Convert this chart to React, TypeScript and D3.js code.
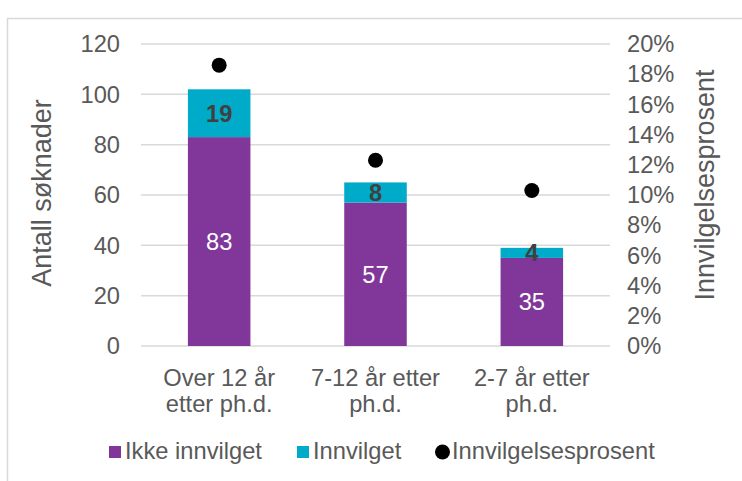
import React from "react";
import * as d3 from "d3";

const categories = ["Over 12 år etter ph.d.", "7-12 år etter ph.d.", "2-7 år etter ph.d."];
const categoryLines = [["Over 12 år", "etter ph.d."], ["7-12 år etter", "ph.d."], ["2-7 år etter", "ph.d."]];
const ikkeInnvilget = [83, 57, 35];
const innvilget = [19, 8, 4];
const prosent = [0.186, 0.123, 0.103];
const leftTicks = [0, 20, 40, 60, 80, 100, 120];
const rightTicks = [0, 0.02, 0.04, 0.06, 0.08, 0.1, 0.12, 0.14, 0.16, 0.18, 0.2];
const legendLabels = ["Ikke innvilget", "Innvilget", "Innvilgelsesprosent"];

const W = 742, H = 481;
const PURPLE = "#81379a";
const TEAL = "#00abc9";
const TEXT = "#595959";
const GRID = "#d9d9d9";
const FONT = "'Liberation Sans', Arial, sans-serif";
const FS = 23.7;

export default function App() {
  const x = d3.scaleBand<string>().domain(categories).range([141, 610]).paddingInner(0.6).paddingOuter(0.3);
  const y = d3.scaleLinear().domain([0, 120]).range([346, 44]);
  const y2 = d3.scaleLinear().domain([0, 0.2]).range([346, 44]);
  const fmtPct = d3.format(".0%");
  return (
    <svg width={W} height={H} style={{ position: "absolute", left: 0, top: 0, fontFamily: FONT }}>
      <rect x={0} y={0} width={W} height={H} fill="#fff" />
      <rect x={7.5} y={18.5} width={W + 10} height={H + 10} fill="none" stroke={GRID} strokeWidth={1.5} />
      {leftTicks.map((t) => (
        <g key={t}>
          <line x1={141} x2={610} y1={y(t)} y2={y(t)} stroke={GRID} strokeWidth={1.5} />
          <text x={120} y={y(t)} dy="0.35em" textAnchor="end" fontSize={FS} fill={TEXT}>{t}</text>
        </g>
      ))}
      {rightTicks.map((t) => (
        <text key={t} x={627} y={y2(t)} dy="0.35em" textAnchor="start" fontSize={FS} fill={TEXT}>{fmtPct(t)}</text>
      ))}
      <text transform={`translate(42,193) rotate(-90)`} textAnchor="middle" dy="0.35em" fontSize={27} fill={TEXT}>Antall søknader</text>
      <text transform={`translate(705,185) rotate(-90)`} textAnchor="middle" dy="0.35em" fontSize={27} fill={TEXT}>Innvilgelsesprosent</text>
      {categories.map((c, i) => {
        const bx = x(c)!;
        const bw = x.bandwidth();
        const cx = bx + bw / 2;
        return (
          <g key={c}>
            <rect x={bx} y={y(ikkeInnvilget[i])} width={bw} height={y(0) - y(ikkeInnvilget[i])} fill={PURPLE} />
            <rect x={bx} y={y(ikkeInnvilget[i] + innvilget[i])} width={bw} height={y(ikkeInnvilget[i]) - y(ikkeInnvilget[i] + innvilget[i])} fill={TEAL} />
            <text x={cx} y={y(ikkeInnvilget[i] / 2)} dy="0.35em" textAnchor="middle" fontSize={FS} fill="#fff">{ikkeInnvilget[i]}</text>
            <text x={cx} y={y(ikkeInnvilget[i] + innvilget[i] / 2)} dy="0.35em" textAnchor="middle" fontSize={FS} fontWeight="bold" fill="#404040">{innvilget[i]}</text>
            <circle cx={cx} cy={y2(prosent[i])} r={7.5} fill="#000" />
            {categoryLines[i].map((l, j) => (
              <text key={j} x={cx} y={386 + j * 25.5} textAnchor="middle" fontSize={FS} fill={TEXT}>{l}</text>
            ))}
          </g>
        );
      })}
      <g>
        <rect x={109} y={446} width={12} height={12} fill={PURPLE} />
        <text x={125} y={451} dy="0.35em" fontSize={FS} fill={TEXT}>{legendLabels[0]}</text>
        <rect x={297} y={446} width={12} height={12} fill={TEAL} />
        <text x={313} y={451} dy="0.35em" fontSize={FS} fill={TEXT}>{legendLabels[1]}</text>
        <circle cx={442.5} cy={452} r={7.5} fill="#000" />
        <text x={452} y={451} dy="0.35em" fontSize={FS} fill={TEXT}>{legendLabels[2]}</text>
      </g>
    </svg>
  );
}
